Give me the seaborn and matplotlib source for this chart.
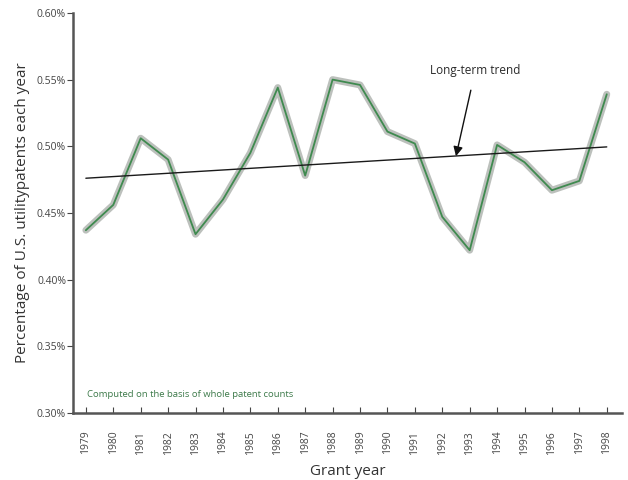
import pandas as pd
import seaborn as sns
import matplotlib.pyplot as plt
import matplotlib.patheffects as pe
from matplotlib.ticker import FuncFormatter

# Share of U.S. utility patents each year (in percent)
years = list(range(1979, 1999))
share = [0.437, 0.456, 0.506, 0.490, 0.434, 0.460, 0.495, 0.544, 0.478, 0.550,
         0.546, 0.511, 0.502, 0.447, 0.422, 0.501, 0.488, 0.467, 0.474, 0.539]
trend_years = [1979, 1998]
trend_vals = [0.476, 0.4995]
y_ticks = [0.30, 0.35, 0.40, 0.45, 0.50, 0.55, 0.60]

df = pd.DataFrame({'Grant year': years, 'Share': share})
df_trend = pd.DataFrame({'Grant year': trend_years, 'Share': trend_vals})

sns.set_style('white')
plt.rcParams['font.family'] = ['Open Sans', 'DejaVu Sans']

fig = plt.figure(figsize=(6.28, 4.8), dpi=100)
ax = fig.add_axes([0.1162, 0.140, 0.874, 0.833])

# halo + green line
sns.lineplot(data=df, x='Grant year', y='Share', ax=ax, color='#3f8a4f', linewidth=1.3,
             path_effects=[pe.Stroke(linewidth=5, foreground='#bcc0bc'), pe.Normal()])
sns.lineplot(data=df_trend, x='Grant year', y='Share', ax=ax, color='#1a1a1a', linewidth=1.0)

ax.annotate('Long-term trend', xy=(1992.5, 0.4925), xytext=(1993.2, 0.5565),
            ha='center', va='center', fontsize=8.5, color='#2a2a2a',
            arrowprops=dict(arrowstyle='-|>', color='#111111', lw=1.0, shrinkA=7, shrinkB=0,
                            mutation_scale=14))

ax.text(1979.05, 0.3135, 'Computed on the basis of whole patent counts', fontsize=6.8,
        color='#3d7a4a', ha='left', va='center')

ax.set_xlim(1978.53, 1998.55)
ax.set_ylim(0.30, 0.60)
ax.set_yticks(y_ticks)
ax.yaxis.set_major_formatter(FuncFormatter(lambda v, p: f'{v:.2f}%'))
ax.set_xticks(years)
ax.set_xticklabels([str(y) for y in years], rotation=90)

ax.tick_params(axis='y', direction='out', length=4, width=0.8, color='#444444',
               labelsize=7.5, labelcolor='#444444', pad=1, left=True)
ax.tick_params(axis='x', direction='in', length=4, width=0.8, color='#444444',
               labelsize=7.5, labelcolor='#444444', pad=13, bottom=True)

ax.set_xlabel('Grant year', fontsize=11, color='#333333', labelpad=7)
ax.set_ylabel('Percentage of U.S. utilitypatents each year', fontsize=11, color='#333333', labelpad=5)

sns.despine(ax=ax)
for s in ['left', 'bottom']:
    ax.spines[s].set_linewidth(1.8)
    ax.spines[s].set_color('#555555')

plt.savefig('out.png', dpi=100)
plt.close()
